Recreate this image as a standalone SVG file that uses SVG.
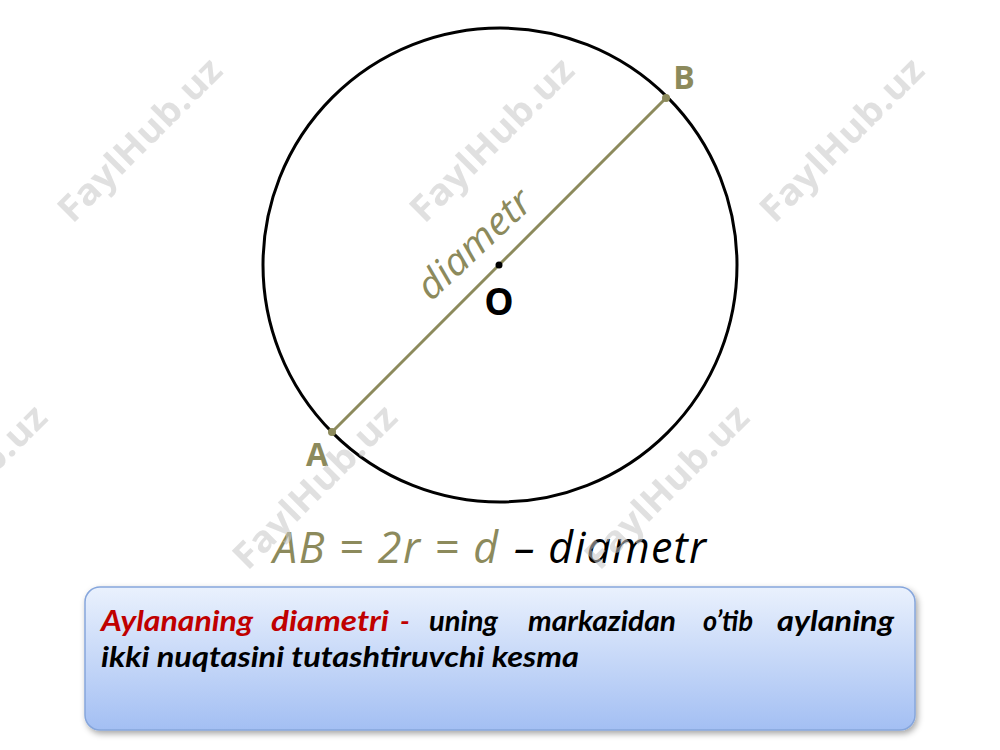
<svg xmlns="http://www.w3.org/2000/svg" width="1000" height="750" viewBox="0 0 1000 750">
<defs>
<linearGradient id="boxg" x1="0" y1="0" x2="0" y2="1">
<stop offset="0" stop-color="#eaf1fd"/>
<stop offset="1" stop-color="#a3bff3"/>
</linearGradient>
<filter id="sh" x="-5%" y="-10%" width="110%" height="130%">
<feDropShadow dx="2" dy="3" stdDeviation="3" flood-color="#000" flood-opacity="0.35"/>
</filter>
</defs>
<style>
.olive{fill:#8c8a5c}
.lbl{font-family:"Open Sans","Noto Sans",sans-serif;font-weight:bold}
.it{font-family:"Open Sans","Noto Sans",sans-serif;font-style:italic}
.def{font-family:Lato,"Open Sans",sans-serif;font-style:italic;font-weight:bold;font-size:28px}
.wm{font-family:"Open Sans","Noto Sans",sans-serif;font-weight:bold;font-size:36px;fill:#c8c8c8;opacity:0.55}
</style>
<rect width="1000" height="750" fill="#ffffff"/>

<g id="circle">
<circle cx="500" cy="265" r="237" fill="none" stroke="#000" stroke-width="3"/>
</g>

<g id="connectors">
<line x1="332" y1="432" x2="666" y2="98" stroke="#8c8a5c" stroke-width="3"/>
</g>

<g id="pointA">
<circle cx="332" cy="432" r="4" class="olive"/>
<text x="317" y="466" class="lbl olive" font-size="32" text-anchor="middle">A</text>
</g>
<g id="pointB">
<circle cx="666" cy="98" r="4" class="olive"/>
<text x="684" y="89" class="lbl olive" font-size="32" text-anchor="middle">B</text>
</g>
<g id="centerO">
<circle cx="499" cy="265" r="3.5" fill="#000"/>
<text x="499" y="315" class="lbl" font-size="37" text-anchor="middle" fill="#000">O</text>
</g>
<g id="diamLabel">
<text class="it olive" font-size="38" transform="translate(431,302) rotate(-43)" textLength="142" lengthAdjust="spacingAndGlyphs">diametr</text>
</g>

<g id="formula">
<text x="273" y="563" class="it olive" font-size="43" textLength="225" lengthAdjust="spacing">AB = 2r = d</text>
<text x="514" y="563" class="it" font-size="43" fill="#000" textLength="192" lengthAdjust="spacing">– diametr</text>
</g>

<g id="definition">
<rect x="85" y="587" width="830" height="143" rx="15" fill="url(#boxg)" stroke="#86a6dc" stroke-width="1.5" filter="url(#sh)"/>
<text y="631" class="def">
<tspan x="101" fill="#c00000" textLength="152" lengthAdjust="spacingAndGlyphs">Aylananing</tspan>
<tspan x="271" fill="#c00000" textLength="118" lengthAdjust="spacingAndGlyphs">diametri</tspan>
<tspan x="400" fill="#c00000">-</tspan>
<tspan x="429" fill="#000" textLength="69" lengthAdjust="spacingAndGlyphs">uning</tspan>
<tspan x="528" fill="#000" textLength="148" lengthAdjust="spacingAndGlyphs">markazidan</tspan>
<tspan x="703" fill="#000" textLength="50" lengthAdjust="spacingAndGlyphs">o’tib</tspan>
<tspan x="777" fill="#000" textLength="117" lengthAdjust="spacingAndGlyphs">aylaning</tspan>
</text>
<text x="101" y="667" class="def" fill="#000" textLength="478" lengthAdjust="spacingAndGlyphs">ikki nuqtasini tutashtiruvchi kesma</text>
</g>

<g id="watermarks">
<text class="wm" text-anchor="middle" textLength="215" lengthAdjust="spacingAndGlyphs" transform="translate(140,140) rotate(-45) translate(0,12)">FaylHub.uz</text>
<text class="wm" text-anchor="middle" textLength="215" lengthAdjust="spacingAndGlyphs" transform="translate(492,140) rotate(-45) translate(0,12)">FaylHub.uz</text>
<text class="wm" text-anchor="middle" textLength="215" lengthAdjust="spacingAndGlyphs" transform="translate(842,140) rotate(-45) translate(0,12)">FaylHub.uz</text>
<text class="wm" text-anchor="middle" textLength="215" lengthAdjust="spacingAndGlyphs" transform="translate(-35,487) rotate(-45) translate(0,12)">FaylHub.uz</text>
<text class="wm" text-anchor="middle" textLength="215" lengthAdjust="spacingAndGlyphs" transform="translate(315,487) rotate(-45) translate(0,12)">FaylHub.uz</text>
<text class="wm" text-anchor="middle" textLength="215" lengthAdjust="spacingAndGlyphs" transform="translate(667,487) rotate(-45) translate(0,12)">FaylHub.uz</text>
</g>
</svg>
